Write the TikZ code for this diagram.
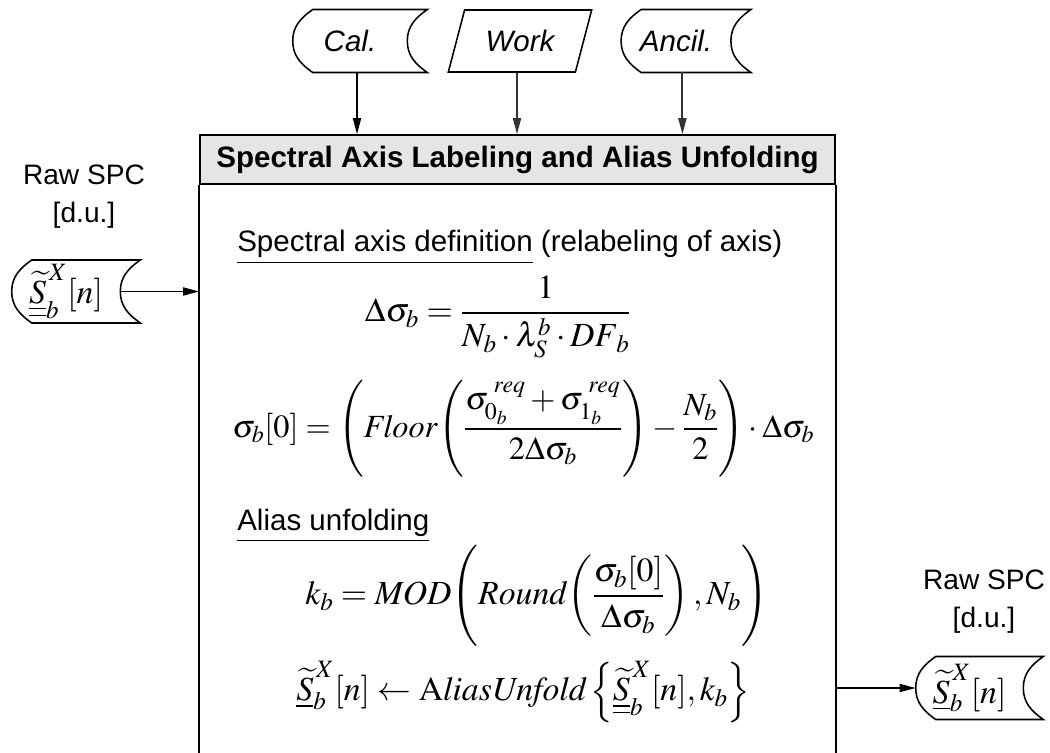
\documentclass[tikz,border=0pt]{standalone}
\usepackage{amsmath}
\usepackage{mathptmx}
\usepackage[no-math]{fontspec}
\setsansfont{Liberation Sans}
\usetikzlibrary{positioning,arrows.meta,shapes.geometric}

\begin{document}
\begin{tikzpicture}[
    x=0.025cm, y=-0.025cm,
    >={Triangle[length=4mm,width=2mm]},
    every node/.style={font=\sffamily\fontsize{21}{25}\selectfont},
    outline/.style={draw=black, line width=1.1pt},
    flowarrow/.style={->, line width=1.3pt, black},
    eqn/.style={font=\fontsize{24}{28}\selectfont, inner sep=0pt},
    lbl/.style={align=center, font=\sffamily\fontsize{20}{27}\selectfont},
    header/.style={outline, fill=black!10, minimum width=15.875cm, minimum height=1.225cm, inner sep=0pt},
    storedata/.style={minimum width=#1, minimum height=1.56cm, inner sep=0pt,
        append after command={\pgfextra{\draw[outline]
            ([xshift=0.5cm]\tikzlastnode.south west) to[out=145,in=-90] (\tikzlastnode.west)
            to[out=90,in=-145] ([xshift=0.5cm]\tikzlastnode.north west)
            -- ([xshift=0.5cm]\tikzlastnode.north east) to[out=-145,in=90] (\tikzlastnode.east)
            to[out=-90,in=145] ([xshift=0.5cm]\tikzlastnode.south east) -- cycle;}}},
    iobox/.style={outline, trapezium, trapezium left angle=65, trapezium right angle=115,
        trapezium stretches, minimum width=3.6cm, minimum height=1.55cm, inner sep=0pt},
]
\useasboundingbox (0,0) rectangle (1050,753);

% ---- Inputs on top ----
\node[storedata=2.85cm] (cal) at (350,41) {\itshape Cal.};
\node[iobox] (work) at (520,41) {\itshape Work};
\node[storedata=2.73cm] (ancil) at (676,41) {\itshape Ancil.};

% ---- Main block ----
\node[header] (head) at (517.5,159.5) {\bfseries Spectral Axis Labeling and Alias Unfolding};
\coordinate (bodyend) at (0,770);
\draw[outline, line width=1.3pt] (head.south west) -- (head.south west |- bodyend);
\draw[outline, line width=1.3pt] (head.south east) -- (head.south east |- bodyend);

\draw[flowarrow] ([xshift=0.175cm]cal.south) -- ([xshift=0.175cm]cal.south |- head.north);
\draw[flowarrow, black!80] ([xshift=-0.075cm]work.south) -- ([xshift=-0.075cm]work.south |- head.north);
\draw[flowarrow, black!80] ([xshift=0.16cm]ancil.south) -- ([xshift=0.16cm]ancil.south |- head.north);

% ---- Spectral axis definition ----
\node[anchor=base west, inner sep=0pt] (defn) at (237,252) {\underline{Spectral axis definition} (relabeling of axis)};
\node[eqn] (eqdelta) at (498,317) {$\Delta\sigma_b = \dfrac{1}{N_b\cdot\lambda_S^b\cdot \mathit{DF}_b}$};
\node[eqn, anchor=west, font=\fontsize{23}{27}\selectfont] (eqstart) at (232,429) {$\sigma_b[0] = \left(\rule[-1.0cm]{0pt}{2.3cm} \mathit{Floor}\!\left(\dfrac{\sigma_{0_b}^{\;req} + \sigma_{1_b}^{\;req}}{2\Delta\sigma_b}\right) - \dfrac{N_b}{2}\right)\cdot\Delta\sigma_b$};

% ---- Alias unfolding ----
\node[anchor=base west, inner sep=0pt] (unfold) at (237,530) {\underline{Alias unfolding}};
\node[eqn, anchor=west] (eqk) at (305,596) {$k_b = \mathit{MOD}\!\left(\rule[-1.0cm]{0pt}{2.3cm} \mathit{Round}\!\left(\dfrac{\sigma_b[0]}{\Delta\sigma_b}\right), N_b\right)$};
\node[eqn, anchor=west] (eqspc) at (296,692) {$\underline{\widetilde{S}}_b^{\,X}[n] \leftarrow \mathrm{A}\mathit{liasUnfold}\left\{\underline{\underline{\widetilde{S}}}_b^{\,X}[n], k_b\right\}$};

% ---- Raw SPC in ----
\node[lbl] (inlbl) at (84,197) {Raw SPC\\{[d.u.]}};
\node[storedata=2.7cm, font=\fontsize{24}{28}\selectfont] (rawin) at (66,291.5) {$\underline{\underline{\widetilde{S}}}_b^{\,X}[n]$};
\draw[flowarrow] (rawin.east) -- (rawin.east -| head.west);

% ---- Raw SPC out ----
\node[lbl] (outlbl) at (984,602) {Raw SPC\\{[d.u.]}};
\node[storedata=2.675cm, font=\fontsize{24}{28}\selectfont] (rawout) at (969.5,688) {$\underline{\widetilde{S}}_b^{\,X}[n]$};
\draw[flowarrow] (rawout.west -| head.east) -- (rawout.west);

\end{tikzpicture}
\end{document}
